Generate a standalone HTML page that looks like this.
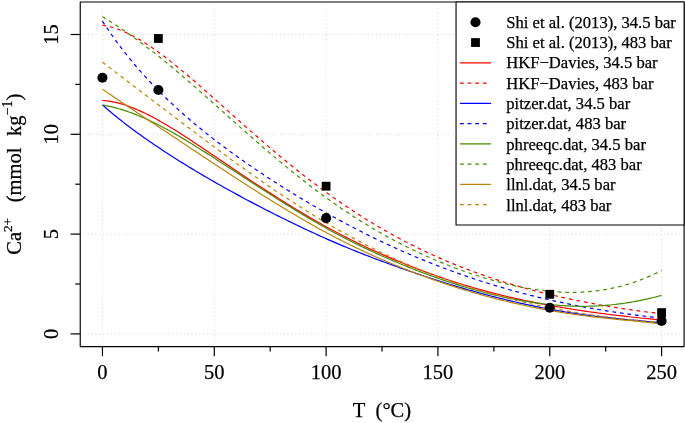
<!DOCTYPE html>
<html><head><meta charset="utf-8"><style>
html,body{margin:0;padding:0;background:#fff;}
svg{display:block;font-family:"Liberation Serif",serif;will-change:transform;}
text{stroke:#000;stroke-width:0.25px;}
</style></head><body>
<svg width="685" height="423" viewBox="0 0 685 423">
<rect width="685" height="423" fill="#fff"/>
<line x1="102.45" y1="346.55" x2="102.45" y2="2.00" stroke="#d3d3d3" stroke-width="1" stroke-dasharray="0.96 2.88" stroke-dashoffset="0.5"/>
<line x1="214.28" y1="346.55" x2="214.28" y2="2.00" stroke="#d3d3d3" stroke-width="1" stroke-dasharray="0.96 2.88" stroke-dashoffset="0.5"/>
<line x1="326.11" y1="346.55" x2="326.11" y2="2.00" stroke="#d3d3d3" stroke-width="1" stroke-dasharray="0.96 2.88" stroke-dashoffset="0.5"/>
<line x1="437.94" y1="346.55" x2="437.94" y2="2.00" stroke="#d3d3d3" stroke-width="1" stroke-dasharray="0.96 2.88" stroke-dashoffset="0.5"/>
<line x1="549.77" y1="346.55" x2="549.77" y2="2.00" stroke="#d3d3d3" stroke-width="1" stroke-dasharray="0.96 2.88" stroke-dashoffset="0.5"/>
<line x1="661.60" y1="346.55" x2="661.60" y2="2.00" stroke="#d3d3d3" stroke-width="1" stroke-dasharray="0.96 2.88" stroke-dashoffset="0.5"/>
<line x1="80.25" y1="333.90" x2="684.10" y2="333.90" stroke="#d3d3d3" stroke-width="1" stroke-dasharray="0.96 2.88"/>
<line x1="80.25" y1="234.10" x2="684.10" y2="234.10" stroke="#d3d3d3" stroke-width="1" stroke-dasharray="0.96 2.88"/>
<line x1="80.25" y1="134.30" x2="684.10" y2="134.30" stroke="#d3d3d3" stroke-width="1" stroke-dasharray="0.96 2.88"/>
<line x1="80.25" y1="34.50" x2="684.10" y2="34.50" stroke="#d3d3d3" stroke-width="1" stroke-dasharray="0.96 2.88"/>
<path d="M102.45,100.42 L104.79,100.60 L107.13,100.86 L109.47,101.18 L111.81,101.58 L114.15,102.05 L116.49,102.57 L118.83,103.17 L121.17,103.82 L123.51,104.52 L125.85,105.28 L128.18,106.10 L130.52,106.96 L132.86,107.86 L135.20,108.82 L137.54,109.81 L139.88,110.85 L142.22,111.92 L144.56,113.04 L146.90,114.18 L149.24,115.36 L151.58,116.57 L153.92,117.82 L156.26,119.09 L158.60,120.39 L160.94,121.71 L163.28,123.05 L165.62,124.42 L167.96,125.81 L170.30,127.22 L172.64,128.65 L174.98,130.10 L177.32,131.56 L179.65,133.04 L181.99,134.53 L184.33,136.04 L186.67,137.55 L189.01,139.08 L191.35,140.61 L193.69,142.15 L196.03,143.70 L198.37,145.26 L200.71,146.82 L203.05,148.39 L205.39,149.96 L207.73,151.54 L210.07,153.11 L212.41,154.69 L214.75,156.27 L217.09,157.86 L219.43,159.44 L221.77,161.02 L224.11,162.60 L226.45,164.18 L228.79,165.76 L231.12,167.34 L233.46,168.92 L235.80,170.49 L238.14,172.07 L240.48,173.63 L242.82,175.20 L245.16,176.76 L247.50,178.32 L249.84,179.88 L252.18,181.43 L254.52,182.97 L256.86,184.51 L259.20,186.04 L261.54,187.57 L263.88,189.10 L266.22,190.61 L268.56,192.12 L270.90,193.62 L273.24,195.12 L275.58,196.61 L277.92,198.09 L280.26,199.56 L282.59,201.03 L284.93,202.48 L287.27,203.93 L289.61,205.37 L291.95,206.81 L294.29,208.24 L296.63,209.65 L298.97,211.07 L301.31,212.47 L303.65,213.87 L305.99,215.25 L308.33,216.63 L310.67,217.99 L313.01,219.35 L315.35,220.69 L317.69,222.03 L320.03,223.35 L322.37,224.67 L324.71,225.97 L327.05,227.26 L329.39,228.53 L331.72,229.80 L334.06,231.05 L336.40,232.29 L338.74,233.52 L341.08,234.74 L343.42,235.95 L345.76,237.14 L348.10,238.33 L350.44,239.50 L352.78,240.67 L355.12,241.82 L357.46,242.96 L359.80,244.09 L362.14,245.22 L364.48,246.33 L366.82,247.42 L369.16,248.51 L371.50,249.59 L373.84,250.66 L376.18,251.72 L378.52,252.77 L380.86,253.81 L383.19,254.84 L385.53,255.86 L387.87,256.87 L390.21,257.87 L392.55,258.86 L394.89,259.85 L397.23,260.83 L399.57,261.79 L401.91,262.75 L404.25,263.70 L406.59,264.64 L408.93,265.58 L411.27,266.50 L413.61,267.42 L415.95,268.32 L418.29,269.22 L420.63,270.11 L422.97,270.99 L425.31,271.86 L427.65,272.72 L429.99,273.57 L432.33,274.42 L434.66,275.25 L437.00,276.07 L439.34,276.88 L441.68,277.69 L444.02,278.48 L446.36,279.27 L448.70,280.04 L451.04,280.81 L453.38,281.56 L455.72,282.31 L458.06,283.05 L460.40,283.78 L462.74,284.50 L465.08,285.21 L467.42,285.91 L469.76,286.60 L472.10,287.28 L474.44,287.96 L476.78,288.62 L479.12,289.28 L481.46,289.93 L483.79,290.57 L486.13,291.20 L488.47,291.83 L490.81,292.44 L493.15,293.05 L495.49,293.65 L497.83,294.24 L500.17,294.82 L502.51,295.40 L504.85,295.96 L507.19,296.52 L509.53,297.07 L511.87,297.61 L514.21,298.15 L516.55,298.68 L518.89,299.20 L521.23,299.71 L523.57,300.22 L525.91,300.72 L528.25,301.21 L530.59,301.69 L532.93,302.17 L535.26,302.64 L537.60,303.10 L539.94,303.55 L542.28,304.00 L544.62,304.45 L546.96,304.88 L549.30,305.31 L551.64,305.74 L553.98,306.15 L556.32,306.57 L558.66,306.97 L561.00,307.37 L563.34,307.76 L565.68,308.15 L568.02,308.53 L570.36,308.91 L572.70,309.28 L575.04,309.65 L577.38,310.01 L579.72,310.36 L582.06,310.71 L584.40,311.06 L586.73,311.40 L589.07,311.73 L591.41,312.06 L593.75,312.39 L596.09,312.71 L598.43,313.03 L600.77,313.34 L603.11,313.64 L605.45,313.95 L607.79,314.24 L610.13,314.54 L612.47,314.83 L614.81,315.11 L617.15,315.39 L619.49,315.67 L621.83,315.94 L624.17,316.21 L626.51,316.47 L628.85,316.74 L631.19,316.99 L633.53,317.25 L635.87,317.50 L638.20,317.74 L640.54,317.99 L642.88,318.23 L645.22,318.47 L647.56,318.70 L649.90,318.93 L652.24,319.16 L654.58,319.39 L656.92,319.61 L659.26,319.83 L661.60,320.04" fill="none" stroke="#ff0000" stroke-width="1.2"/>
<path d="M102.45,25.27 L104.79,25.65 L107.13,26.10 L109.47,26.64 L111.81,27.26 L114.15,27.95 L116.49,28.72 L118.83,29.56 L121.17,30.46 L123.51,31.43 L125.85,32.46 L128.18,33.55 L130.52,34.70 L132.86,35.91 L135.20,37.17 L137.54,38.48 L139.88,39.84 L142.22,41.25 L144.56,42.70 L146.90,44.19 L149.24,45.73 L151.58,47.30 L153.92,48.92 L156.26,50.57 L158.60,52.25 L160.94,53.96 L163.28,55.71 L165.62,57.48 L167.96,59.29 L170.30,61.11 L172.64,62.97 L174.98,64.84 L177.32,66.74 L179.65,68.66 L181.99,70.59 L184.33,72.55 L186.67,74.52 L189.01,76.51 L191.35,78.51 L193.69,80.52 L196.03,82.55 L198.37,84.58 L200.71,86.63 L203.05,88.68 L205.39,90.75 L207.73,92.82 L210.07,94.89 L212.41,96.97 L214.75,99.06 L217.09,101.15 L219.43,103.24 L221.77,105.33 L224.11,107.42 L226.45,109.52 L228.79,111.61 L231.12,113.70 L233.46,115.80 L235.80,117.88 L238.14,119.97 L240.48,122.05 L242.82,124.13 L245.16,126.21 L247.50,128.27 L249.84,130.34 L252.18,132.39 L254.52,134.45 L256.86,136.49 L259.20,138.52 L261.54,140.55 L263.88,142.57 L266.22,144.58 L268.56,146.59 L270.90,148.58 L273.24,150.56 L275.58,152.54 L277.92,154.50 L280.26,156.45 L282.59,158.39 L284.93,160.32 L287.27,162.24 L289.61,164.15 L291.95,166.04 L294.29,167.93 L296.63,169.80 L298.97,171.66 L301.31,173.50 L303.65,175.34 L305.99,177.16 L308.33,178.97 L310.67,180.76 L313.01,182.54 L315.35,184.31 L317.69,186.06 L320.03,187.80 L322.37,189.53 L324.71,191.24 L327.05,192.94 L329.39,194.62 L331.72,196.30 L334.06,197.95 L336.40,199.59 L338.74,201.22 L341.08,202.84 L343.42,204.43 L345.76,206.02 L348.10,207.59 L350.44,209.15 L352.78,210.69 L355.12,212.22 L357.46,213.73 L359.80,215.23 L362.14,216.71 L364.48,218.18 L366.82,219.64 L369.16,221.08 L371.50,222.51 L373.84,223.92 L376.18,225.32 L378.52,226.70 L380.86,228.07 L383.19,229.43 L385.53,230.77 L387.87,232.10 L390.21,233.41 L392.55,234.71 L394.89,236.00 L397.23,237.27 L399.57,238.53 L401.91,239.78 L404.25,241.01 L406.59,242.23 L408.93,243.43 L411.27,244.62 L413.61,245.80 L415.95,246.96 L418.29,248.12 L420.63,249.25 L422.97,250.38 L425.31,251.49 L427.65,252.59 L429.99,253.68 L432.33,254.75 L434.66,255.81 L437.00,256.86 L439.34,257.90 L441.68,258.92 L444.02,259.94 L446.36,260.94 L448.70,261.92 L451.04,262.90 L453.38,263.86 L455.72,264.82 L458.06,265.76 L460.40,266.69 L462.74,267.60 L465.08,268.51 L467.42,269.41 L469.76,270.29 L472.10,271.16 L474.44,272.02 L476.78,272.87 L479.12,273.71 L481.46,274.54 L483.79,275.36 L486.13,276.17 L488.47,276.97 L490.81,277.76 L493.15,278.53 L495.49,279.30 L497.83,280.06 L500.17,280.80 L502.51,281.54 L504.85,282.27 L507.19,282.99 L509.53,283.70 L511.87,284.40 L514.21,285.09 L516.55,285.77 L518.89,286.44 L521.23,287.10 L523.57,287.76 L525.91,288.40 L528.25,289.04 L530.59,289.66 L532.93,290.28 L535.26,290.89 L537.60,291.50 L539.94,292.09 L542.28,292.68 L544.62,293.26 L546.96,293.83 L549.30,294.39 L551.64,294.94 L553.98,295.49 L556.32,296.03 L558.66,296.56 L561.00,297.09 L563.34,297.60 L565.68,298.11 L568.02,298.62 L570.36,299.11 L572.70,299.60 L575.04,300.09 L577.38,300.56 L579.72,301.03 L582.06,301.49 L584.40,301.95 L586.73,302.40 L589.07,302.84 L591.41,303.28 L593.75,303.71 L596.09,304.14 L598.43,304.56 L600.77,304.97 L603.11,305.38 L605.45,305.78 L607.79,306.17 L610.13,306.56 L612.47,306.95 L614.81,307.33 L617.15,307.70 L619.49,308.07 L621.83,308.43 L624.17,308.79 L626.51,309.14 L628.85,309.48 L631.19,309.83 L633.53,310.16 L635.87,310.49 L638.20,310.82 L640.54,311.14 L642.88,311.45 L645.22,311.76 L647.56,312.07 L649.90,312.37 L652.24,312.66 L654.58,312.95 L656.92,313.23 L659.26,313.51 L661.60,313.79" fill="none" stroke="#ff0000" stroke-width="1.2" stroke-dasharray="3.81 3.81"/>
<path d="M102.45,105.03 L104.79,107.07 L107.13,109.07 L109.47,111.05 L111.81,113.00 L114.15,114.92 L116.49,116.82 L118.83,118.70 L121.17,120.55 L123.51,122.38 L125.85,124.18 L128.18,125.97 L130.52,127.73 L132.86,129.47 L135.20,131.20 L137.54,132.91 L139.88,134.60 L142.22,136.27 L144.56,137.92 L146.90,139.56 L149.24,141.19 L151.58,142.80 L153.92,144.40 L156.26,145.98 L158.60,147.55 L160.94,149.11 L163.28,150.65 L165.62,152.19 L167.96,153.71 L170.30,155.22 L172.64,156.72 L174.98,158.21 L177.32,159.69 L179.65,161.16 L181.99,162.63 L184.33,164.08 L186.67,165.52 L189.01,166.95 L191.35,168.37 L193.69,169.79 L196.03,171.19 L198.37,172.59 L200.71,173.98 L203.05,175.36 L205.39,176.73 L207.73,178.09 L210.07,179.45 L212.41,180.79 L214.75,182.13 L217.09,183.46 L219.43,184.79 L221.77,186.10 L224.11,187.41 L226.45,188.72 L228.79,190.01 L231.12,191.30 L233.46,192.59 L235.80,193.86 L238.14,195.13 L240.48,196.40 L242.82,197.66 L245.16,198.91 L247.50,200.16 L249.84,201.40 L252.18,202.64 L254.52,203.87 L256.86,205.10 L259.20,206.31 L261.54,207.53 L263.88,208.74 L266.22,209.94 L268.56,211.13 L270.90,212.33 L273.24,213.51 L275.58,214.69 L277.92,215.86 L280.26,217.02 L282.59,218.18 L284.93,219.33 L287.27,220.48 L289.61,221.62 L291.95,222.76 L294.29,223.89 L296.63,225.02 L298.97,226.14 L301.31,227.26 L303.65,228.37 L305.99,229.47 L308.33,230.57 L310.67,231.66 L313.01,232.74 L315.35,233.82 L317.69,234.89 L320.03,235.95 L322.37,237.00 L324.71,238.05 L327.05,239.08 L329.39,240.11 L331.72,241.13 L334.06,242.14 L336.40,243.14 L338.74,244.14 L341.08,245.12 L343.42,246.10 L345.76,247.07 L348.10,248.04 L350.44,249.00 L352.78,249.95 L355.12,250.89 L357.46,251.83 L359.80,252.76 L362.14,253.68 L364.48,254.60 L366.82,255.51 L369.16,256.41 L371.50,257.30 L373.84,258.20 L376.18,259.08 L378.52,259.96 L380.86,260.83 L383.19,261.70 L385.53,262.56 L387.87,263.42 L390.21,264.27 L392.55,265.12 L394.89,265.96 L397.23,266.80 L399.57,267.63 L401.91,268.46 L404.25,269.29 L406.59,270.11 L408.93,270.92 L411.27,271.73 L413.61,272.54 L415.95,273.34 L418.29,274.14 L420.63,274.93 L422.97,275.71 L425.31,276.49 L427.65,277.27 L429.99,278.04 L432.33,278.80 L434.66,279.56 L437.00,280.31 L439.34,281.05 L441.68,281.79 L444.02,282.53 L446.36,283.26 L448.70,283.98 L451.04,284.70 L453.38,285.41 L455.72,286.11 L458.06,286.81 L460.40,287.50 L462.74,288.19 L465.08,288.87 L467.42,289.54 L469.76,290.21 L472.10,290.87 L474.44,291.53 L476.78,292.18 L479.12,292.83 L481.46,293.46 L483.79,294.10 L486.13,294.72 L488.47,295.34 L490.81,295.96 L493.15,296.57 L495.49,297.17 L497.83,297.76 L500.17,298.35 L502.51,298.93 L504.85,299.51 L507.19,300.08 L509.53,300.64 L511.87,301.20 L514.21,301.74 L516.55,302.29 L518.89,302.82 L521.23,303.35 L523.57,303.87 L525.91,304.38 L528.25,304.89 L530.59,305.39 L532.93,305.88 L535.26,306.37 L537.60,306.84 L539.94,307.31 L542.28,307.78 L544.62,308.23 L546.96,308.68 L549.30,309.12 L551.64,309.55 L553.98,309.98 L556.32,310.39 L558.66,310.80 L561.00,311.21 L563.34,311.60 L565.68,311.99 L568.02,312.37 L570.36,312.74 L572.70,313.10 L575.04,313.46 L577.38,313.81 L579.72,314.15 L582.06,314.48 L584.40,314.81 L586.73,315.13 L589.07,315.44 L591.41,315.75 L593.75,316.05 L596.09,316.34 L598.43,316.62 L600.77,316.90 L603.11,317.17 L605.45,317.43 L607.79,317.69 L610.13,317.94 L612.47,318.19 L614.81,318.43 L617.15,318.67 L619.49,318.90 L621.83,319.13 L624.17,319.36 L626.51,319.58 L628.85,319.80 L631.19,320.01 L633.53,320.22 L635.87,320.44 L638.20,320.65 L640.54,320.86 L642.88,321.08 L645.22,321.29 L647.56,321.51 L649.90,321.73 L652.24,321.95 L654.58,322.18 L656.92,322.41 L659.26,322.65 L661.60,322.89" fill="none" stroke="#0000ff" stroke-width="1.2"/>
<path d="M102.45,21.20 L104.79,24.76 L107.13,28.25 L109.47,31.67 L111.81,35.02 L114.15,38.31 L116.49,41.53 L118.83,44.69 L121.17,47.79 L123.51,50.83 L125.85,53.82 L128.18,56.76 L130.52,59.64 L132.86,62.47 L135.20,65.26 L137.54,68.00 L139.88,70.69 L142.22,73.34 L144.56,75.94 L146.90,78.51 L149.24,81.03 L151.58,83.52 L153.92,85.97 L156.26,88.38 L158.60,90.76 L160.94,93.11 L163.28,95.42 L165.62,97.70 L167.96,99.95 L170.30,102.17 L172.64,104.37 L174.98,106.53 L177.32,108.67 L179.65,110.79 L181.99,112.88 L184.33,114.94 L186.67,116.98 L189.01,119.00 L191.35,121.00 L193.69,122.98 L196.03,124.93 L198.37,126.87 L200.71,128.78 L203.05,130.68 L205.39,132.56 L207.73,134.43 L210.07,136.27 L212.41,138.10 L214.75,139.92 L217.09,141.71 L219.43,143.50 L221.77,145.26 L224.11,147.02 L226.45,148.76 L228.79,150.48 L231.12,152.19 L233.46,153.89 L235.80,155.58 L238.14,157.25 L240.48,158.92 L242.82,160.57 L245.16,162.21 L247.50,163.83 L249.84,165.45 L252.18,167.06 L254.52,168.65 L256.86,170.23 L259.20,171.81 L261.54,173.37 L263.88,174.92 L266.22,176.47 L268.56,178.00 L270.90,179.53 L273.24,181.04 L275.58,182.55 L277.92,184.04 L280.26,185.53 L282.59,187.01 L284.93,188.47 L287.27,189.93 L289.61,191.38 L291.95,192.82 L294.29,194.26 L296.63,195.68 L298.97,197.10 L301.31,198.50 L303.65,199.90 L305.99,201.29 L308.33,202.67 L310.67,204.04 L313.01,205.41 L315.35,206.76 L317.69,208.11 L320.03,209.45 L322.37,210.77 L324.71,212.10 L327.05,213.41 L329.39,214.71 L331.72,216.01 L334.06,217.30 L336.40,218.57 L338.74,219.85 L341.08,221.11 L343.42,222.36 L345.76,223.61 L348.10,224.84 L350.44,226.07 L352.78,227.29 L355.12,228.50 L357.46,229.70 L359.80,230.90 L362.14,232.08 L364.48,233.26 L366.82,234.43 L369.16,235.59 L371.50,236.74 L373.84,237.88 L376.18,239.02 L378.52,240.14 L380.86,241.26 L383.19,242.37 L385.53,243.47 L387.87,244.56 L390.21,245.64 L392.55,246.72 L394.89,247.78 L397.23,248.84 L399.57,249.89 L401.91,250.93 L404.25,251.96 L406.59,252.98 L408.93,254.00 L411.27,255.00 L413.61,256.00 L415.95,256.99 L418.29,257.97 L420.63,258.94 L422.97,259.90 L425.31,260.86 L427.65,261.80 L429.99,262.74 L432.33,263.67 L434.66,264.59 L437.00,265.50 L439.34,266.40 L441.68,267.30 L444.02,268.19 L446.36,269.06 L448.70,269.93 L451.04,270.80 L453.38,271.65 L455.72,272.49 L458.06,273.33 L460.40,274.16 L462.74,274.98 L465.08,275.79 L467.42,276.60 L469.76,277.39 L472.10,278.18 L474.44,278.96 L476.78,279.73 L479.12,280.50 L481.46,281.25 L483.79,282.00 L486.13,282.74 L488.47,283.47 L490.81,284.19 L493.15,284.91 L495.49,285.62 L497.83,286.32 L500.17,287.01 L502.51,287.70 L504.85,288.37 L507.19,289.04 L509.53,289.71 L511.87,290.36 L514.21,291.01 L516.55,291.65 L518.89,292.28 L521.23,292.90 L523.57,293.52 L525.91,294.13 L528.25,294.73 L530.59,295.32 L532.93,295.91 L535.26,296.49 L537.60,297.06 L539.94,297.63 L542.28,298.19 L544.62,298.74 L546.96,299.28 L549.30,299.82 L551.64,300.35 L553.98,300.87 L556.32,301.39 L558.66,301.89 L561.00,302.40 L563.34,302.89 L565.68,303.38 L568.02,303.86 L570.36,304.33 L572.70,304.80 L575.04,305.26 L577.38,305.72 L579.72,306.17 L582.06,306.61 L584.40,307.04 L586.73,307.47 L589.07,307.89 L591.41,308.31 L593.75,308.71 L596.09,309.12 L598.43,309.51 L600.77,309.90 L603.11,310.29 L605.45,310.67 L607.79,311.04 L610.13,311.40 L612.47,311.76 L614.81,312.12 L617.15,312.47 L619.49,312.81 L621.83,313.15 L624.17,313.48 L626.51,313.81 L628.85,314.13 L631.19,314.44 L633.53,314.75 L635.87,315.06 L638.20,315.36 L640.54,315.66 L642.88,315.95 L645.22,316.24 L647.56,316.52 L649.90,316.80 L652.24,317.07 L654.58,317.34 L656.92,317.61 L659.26,317.87 L661.60,318.13" fill="none" stroke="#0000ff" stroke-width="1.2" stroke-dasharray="3.81 3.81"/>
<path d="M102.45,105.06 L104.79,105.45 L107.13,105.88 L109.47,106.36 L111.81,106.89 L114.15,107.45 L116.49,108.06 L118.83,108.72 L121.17,109.41 L123.51,110.14 L125.85,110.90 L128.18,111.71 L130.52,112.55 L132.86,113.42 L135.20,114.32 L137.54,115.26 L139.88,116.23 L142.22,117.23 L144.56,118.26 L146.90,119.32 L149.24,120.40 L151.58,121.52 L153.92,122.65 L156.26,123.81 L158.60,125.00 L160.94,126.21 L163.28,127.44 L165.62,128.69 L167.96,129.96 L170.30,131.25 L172.64,132.57 L174.98,133.89 L177.32,135.24 L179.65,136.60 L181.99,137.98 L184.33,139.37 L186.67,140.77 L189.01,142.19 L191.35,143.61 L193.69,145.05 L196.03,146.50 L198.37,147.96 L200.71,149.42 L203.05,150.90 L205.39,152.38 L207.73,153.87 L210.07,155.36 L212.41,156.86 L214.75,158.37 L217.09,159.88 L219.43,161.39 L221.77,162.90 L224.11,164.42 L226.45,165.95 L228.79,167.47 L231.12,169.00 L233.46,170.52 L235.80,172.05 L238.14,173.58 L240.48,175.11 L242.82,176.64 L245.16,178.17 L247.50,179.70 L249.84,181.22 L252.18,182.75 L254.52,184.27 L256.86,185.79 L259.20,187.30 L261.54,188.82 L263.88,190.33 L266.22,191.83 L268.56,193.33 L270.90,194.83 L273.24,196.32 L275.58,197.80 L277.92,199.28 L280.26,200.75 L282.59,202.22 L284.93,203.68 L287.27,205.13 L289.61,206.57 L291.95,208.02 L294.29,209.45 L296.63,210.88 L298.97,212.30 L301.31,213.71 L303.65,215.12 L305.99,216.51 L308.33,217.90 L310.67,219.28 L313.01,220.64 L315.35,222.00 L317.69,223.35 L320.03,224.69 L322.37,226.01 L324.71,227.33 L327.05,228.63 L329.39,229.92 L331.72,231.20 L334.06,232.47 L336.40,233.72 L338.74,234.97 L341.08,236.20 L343.42,237.42 L345.76,238.63 L348.10,239.83 L350.44,241.01 L352.78,242.19 L355.12,243.36 L357.46,244.51 L359.80,245.66 L362.14,246.79 L364.48,247.91 L366.82,249.02 L369.16,250.12 L371.50,251.21 L373.84,252.29 L376.18,253.36 L378.52,254.42 L380.86,255.47 L383.19,256.51 L385.53,257.54 L387.87,258.56 L390.21,259.57 L392.55,260.58 L394.89,261.57 L397.23,262.56 L399.57,263.53 L401.91,264.50 L404.25,265.46 L406.59,266.41 L408.93,267.35 L411.27,268.28 L413.61,269.21 L415.95,270.12 L418.29,271.03 L420.63,271.92 L422.97,272.81 L425.31,273.68 L427.65,274.55 L429.99,275.41 L432.33,276.25 L434.66,277.09 L437.00,277.92 L439.34,278.73 L441.68,279.54 L444.02,280.34 L446.36,281.12 L448.70,281.90 L451.04,282.66 L453.38,283.42 L455.72,284.16 L458.06,284.90 L460.40,285.62 L462.74,286.34 L465.08,287.04 L467.42,287.73 L469.76,288.41 L472.10,289.08 L474.44,289.74 L476.78,290.39 L479.12,291.03 L481.46,291.66 L483.79,292.27 L486.13,292.88 L488.47,293.47 L490.81,294.06 L493.15,294.63 L495.49,295.19 L497.83,295.74 L500.17,296.27 L502.51,296.80 L504.85,297.31 L507.19,297.81 L509.53,298.30 L511.87,298.78 L514.21,299.24 L516.55,299.69 L518.89,300.12 L521.23,300.55 L523.57,300.96 L525.91,301.35 L528.25,301.74 L530.59,302.10 L532.93,302.46 L535.26,302.80 L537.60,303.12 L539.94,303.43 L542.28,303.73 L544.62,304.01 L546.96,304.28 L549.30,304.53 L551.64,304.76 L553.98,304.98 L556.32,305.18 L558.66,305.37 L561.00,305.54 L563.34,305.69 L565.68,305.83 L568.02,305.95 L570.36,306.05 L572.70,306.13 L575.04,306.20 L577.38,306.25 L579.72,306.28 L582.06,306.30 L584.40,306.29 L586.73,306.27 L589.07,306.22 L591.41,306.16 L593.75,306.08 L596.09,305.98 L598.43,305.87 L600.77,305.73 L603.11,305.57 L605.45,305.39 L607.79,305.20 L610.13,304.98 L612.47,304.74 L614.81,304.49 L617.15,304.21 L619.49,303.92 L621.83,303.60 L624.17,303.27 L626.51,302.91 L628.85,302.54 L631.19,302.15 L633.53,301.74 L635.87,301.30 L638.20,300.86 L640.54,300.39 L642.88,299.90 L645.22,299.40 L647.56,298.88 L649.90,298.34 L652.24,297.79 L654.58,297.22 L656.92,296.63 L659.26,296.03 L661.60,295.41" fill="none" stroke="#458b00" stroke-width="1.2"/>
<path d="M102.45,16.67 L104.79,18.10 L107.13,19.56 L109.47,21.03 L111.81,22.52 L114.15,24.03 L116.49,25.56 L118.83,27.11 L121.17,28.67 L123.51,30.26 L125.85,31.87 L128.18,33.49 L130.52,35.14 L132.86,36.80 L135.20,38.48 L137.54,40.19 L139.88,41.91 L142.22,43.65 L144.56,45.40 L146.90,47.18 L149.24,48.97 L151.58,50.78 L153.92,52.61 L156.26,54.45 L158.60,56.31 L160.94,58.19 L163.28,60.08 L165.62,61.98 L167.96,63.90 L170.30,65.83 L172.64,67.78 L174.98,69.74 L177.32,71.71 L179.65,73.69 L181.99,75.69 L184.33,77.69 L186.67,79.70 L189.01,81.73 L191.35,83.76 L193.69,85.80 L196.03,87.85 L198.37,89.90 L200.71,91.96 L203.05,94.03 L205.39,96.10 L207.73,98.18 L210.07,100.26 L212.41,102.34 L214.75,104.43 L217.09,106.52 L219.43,108.61 L221.77,110.70 L224.11,112.79 L226.45,114.89 L228.79,116.98 L231.12,119.07 L233.46,121.16 L235.80,123.24 L238.14,125.33 L240.48,127.41 L242.82,129.49 L245.16,131.56 L247.50,133.63 L249.84,135.69 L252.18,137.75 L254.52,139.80 L256.86,141.85 L259.20,143.88 L261.54,145.91 L263.88,147.94 L266.22,149.95 L268.56,151.95 L270.90,153.95 L273.24,155.94 L275.58,157.91 L277.92,159.88 L280.26,161.84 L282.59,163.78 L284.93,165.72 L287.27,167.64 L289.61,169.55 L291.95,171.45 L294.29,173.33 L296.63,175.21 L298.97,177.07 L301.31,178.92 L303.65,180.75 L305.99,182.57 L308.33,184.38 L310.67,186.17 L313.01,187.95 L315.35,189.72 L317.69,191.47 L320.03,193.20 L322.37,194.92 L324.71,196.63 L327.05,198.32 L329.39,200.00 L331.72,201.66 L334.06,203.31 L336.40,204.94 L338.74,206.56 L341.08,208.16 L343.42,209.74 L345.76,211.31 L348.10,212.87 L350.44,214.41 L352.78,215.93 L355.12,217.44 L357.46,218.93 L359.80,220.41 L362.14,221.87 L364.48,223.31 L366.82,224.74 L369.16,226.16 L371.50,227.56 L373.84,228.94 L376.18,230.31 L378.52,231.67 L380.86,233.01 L383.19,234.33 L385.53,235.64 L387.87,236.93 L390.21,238.21 L392.55,239.47 L394.89,240.72 L397.23,241.96 L399.57,243.17 L401.91,244.38 L404.25,245.57 L406.59,246.74 L408.93,247.91 L411.27,249.05 L413.61,250.19 L415.95,251.30 L418.29,252.41 L420.63,253.50 L422.97,254.57 L425.31,255.64 L427.65,256.68 L429.99,257.72 L432.33,258.74 L434.66,259.74 L437.00,260.74 L439.34,261.72 L441.68,262.68 L444.02,263.63 L446.36,264.57 L448.70,265.50 L451.04,266.41 L453.38,267.30 L455.72,268.19 L458.06,269.06 L460.40,269.91 L462.74,270.76 L465.08,271.58 L467.42,272.40 L469.76,273.20 L472.10,273.99 L474.44,274.76 L476.78,275.52 L479.12,276.26 L481.46,276.99 L483.79,277.71 L486.13,278.41 L488.47,279.10 L490.81,279.77 L493.15,280.43 L495.49,281.07 L497.83,281.70 L500.17,282.31 L502.51,282.91 L504.85,283.49 L507.19,284.05 L509.53,284.60 L511.87,285.13 L514.21,285.65 L516.55,286.15 L518.89,286.63 L521.23,287.10 L523.57,287.54 L525.91,287.97 L528.25,288.38 L530.59,288.78 L532.93,289.15 L535.26,289.51 L537.60,289.84 L539.94,290.16 L542.28,290.45 L544.62,290.73 L546.96,290.99 L549.30,291.22 L551.64,291.43 L553.98,291.62 L556.32,291.79 L558.66,291.94 L561.00,292.06 L563.34,292.16 L565.68,292.24 L568.02,292.29 L570.36,292.32 L572.70,292.33 L575.04,292.30 L577.38,292.26 L579.72,292.18 L582.06,292.08 L584.40,291.96 L586.73,291.80 L589.07,291.62 L591.41,291.41 L593.75,291.18 L596.09,290.91 L598.43,290.61 L600.77,290.29 L603.11,289.93 L605.45,289.55 L607.79,289.13 L610.13,288.69 L612.47,288.21 L614.81,287.70 L617.15,287.16 L619.49,286.58 L621.83,285.98 L624.17,285.34 L626.51,284.67 L628.85,283.96 L631.19,283.22 L633.53,282.45 L635.87,281.65 L638.20,280.81 L640.54,279.93 L642.88,279.03 L645.22,278.09 L647.56,277.11 L649.90,276.10 L652.24,275.06 L654.58,273.98 L656.92,272.87 L659.26,271.72 L661.60,270.54" fill="none" stroke="#458b00" stroke-width="1.2" stroke-dasharray="3.81 3.81"/>
<path d="M102.45,89.12 L104.79,90.75 L107.13,92.37 L109.47,93.98 L111.81,95.59 L114.15,97.18 L116.49,98.78 L118.83,100.36 L121.17,101.95 L123.51,103.52 L125.85,105.10 L128.18,106.67 L130.52,108.23 L132.86,109.79 L135.20,111.36 L137.54,112.91 L139.88,114.47 L142.22,116.03 L144.56,117.58 L146.90,119.14 L149.24,120.69 L151.58,122.24 L153.92,123.80 L156.26,125.35 L158.60,126.90 L160.94,128.46 L163.28,130.01 L165.62,131.56 L167.96,133.12 L170.30,134.67 L172.64,136.23 L174.98,137.79 L177.32,139.34 L179.65,140.90 L181.99,142.46 L184.33,144.02 L186.67,145.58 L189.01,147.13 L191.35,148.69 L193.69,150.25 L196.03,151.80 L198.37,153.35 L200.71,154.91 L203.05,156.46 L205.39,158.01 L207.73,159.55 L210.07,161.10 L212.41,162.64 L214.75,164.19 L217.09,165.72 L219.43,167.26 L221.77,168.80 L224.11,170.33 L226.45,171.86 L228.79,173.39 L231.12,174.91 L233.46,176.43 L235.80,177.95 L238.14,179.47 L240.48,180.98 L242.82,182.49 L245.16,184.00 L247.50,185.50 L249.84,187.00 L252.18,188.49 L254.52,189.98 L256.86,191.47 L259.20,192.95 L261.54,194.43 L263.88,195.90 L266.22,197.36 L268.56,198.82 L270.90,200.28 L273.24,201.73 L275.58,203.17 L277.92,204.60 L280.26,206.03 L282.59,207.45 L284.93,208.86 L287.27,210.27 L289.61,211.67 L291.95,213.07 L294.29,214.46 L296.63,215.84 L298.97,217.21 L301.31,218.58 L303.65,219.94 L305.99,221.29 L308.33,222.64 L310.67,223.97 L313.01,225.29 L315.35,226.61 L317.69,227.91 L320.03,229.20 L322.37,230.49 L324.71,231.76 L327.05,233.02 L329.39,234.27 L331.72,235.51 L334.06,236.73 L336.40,237.95 L338.74,239.15 L341.08,240.34 L343.42,241.52 L345.76,242.70 L348.10,243.86 L350.44,245.01 L352.78,246.15 L355.12,247.28 L357.46,248.40 L359.80,249.50 L362.14,250.60 L364.48,251.69 L366.82,252.77 L369.16,253.83 L371.50,254.89 L373.84,255.94 L376.18,256.98 L378.52,258.01 L380.86,259.02 L383.19,260.03 L385.53,261.04 L387.87,262.03 L390.21,263.01 L392.55,263.99 L394.89,264.96 L397.23,265.92 L399.57,266.87 L401.91,267.81 L404.25,268.75 L406.59,269.67 L408.93,270.59 L411.27,271.50 L413.61,272.40 L415.95,273.30 L418.29,274.19 L420.63,275.06 L422.97,275.93 L425.31,276.79 L427.65,277.65 L429.99,278.49 L432.33,279.32 L434.66,280.15 L437.00,280.97 L439.34,281.77 L441.68,282.57 L444.02,283.36 L446.36,284.15 L448.70,284.92 L451.04,285.68 L453.38,286.44 L455.72,287.19 L458.06,287.92 L460.40,288.65 L462.74,289.38 L465.08,290.09 L467.42,290.79 L469.76,291.49 L472.10,292.18 L474.44,292.86 L476.78,293.53 L479.12,294.19 L481.46,294.85 L483.79,295.50 L486.13,296.14 L488.47,296.77 L490.81,297.39 L493.15,298.01 L495.49,298.61 L497.83,299.21 L500.17,299.80 L502.51,300.39 L504.85,300.96 L507.19,301.53 L509.53,302.09 L511.87,302.64 L514.21,303.18 L516.55,303.71 L518.89,304.24 L521.23,304.76 L523.57,305.27 L525.91,305.77 L528.25,306.26 L530.59,306.75 L532.93,307.22 L535.26,307.69 L537.60,308.15 L539.94,308.60 L542.28,309.05 L544.62,309.48 L546.96,309.91 L549.30,310.33 L551.64,310.74 L553.98,311.15 L556.32,311.54 L558.66,311.93 L561.00,312.31 L563.34,312.69 L565.68,313.05 L568.02,313.41 L570.36,313.76 L572.70,314.10 L575.04,314.43 L577.38,314.76 L579.72,315.08 L582.06,315.39 L584.40,315.70 L586.73,316.00 L589.07,316.29 L591.41,316.58 L593.75,316.86 L596.09,317.13 L598.43,317.40 L600.77,317.66 L603.11,317.91 L605.45,318.16 L607.79,318.41 L610.13,318.65 L612.47,318.89 L614.81,319.12 L617.15,319.35 L619.49,319.58 L621.83,319.81 L624.17,320.03 L626.51,320.25 L628.85,320.48 L631.19,320.70 L633.53,320.92 L635.87,321.14 L638.20,321.37 L640.54,321.60 L642.88,321.83 L645.22,322.07 L647.56,322.31 L649.90,322.56 L652.24,322.82 L654.58,323.09 L656.92,323.36 L659.26,323.65 L661.60,323.94" fill="none" stroke="#b8860b" stroke-width="1.2"/>
<path d="M102.45,62.18 L104.79,63.96 L107.13,65.75 L109.47,67.53 L111.81,69.32 L114.15,71.10 L116.49,72.88 L118.83,74.67 L121.17,76.45 L123.51,78.23 L125.85,80.02 L128.18,81.80 L130.52,83.58 L132.86,85.36 L135.20,87.15 L137.54,88.93 L139.88,90.71 L142.22,92.50 L144.56,94.28 L146.90,96.06 L149.24,97.85 L151.58,99.63 L153.92,101.41 L156.26,103.20 L158.60,104.98 L160.94,106.76 L163.28,108.54 L165.62,110.32 L167.96,112.10 L170.30,113.88 L172.64,115.66 L174.98,117.44 L177.32,119.21 L179.65,120.99 L181.99,122.76 L184.33,124.53 L186.67,126.30 L189.01,128.07 L191.35,129.84 L193.69,131.60 L196.03,133.36 L198.37,135.12 L200.71,136.88 L203.05,138.63 L205.39,140.38 L207.73,142.13 L210.07,143.88 L212.41,145.62 L214.75,147.35 L217.09,149.09 L219.43,150.82 L221.77,152.54 L224.11,154.26 L226.45,155.98 L228.79,157.69 L231.12,159.40 L233.46,161.10 L235.80,162.80 L238.14,164.49 L240.48,166.18 L242.82,167.86 L245.16,169.53 L247.50,171.20 L249.84,172.86 L252.18,174.52 L254.52,176.17 L256.86,177.81 L259.20,179.45 L261.54,181.08 L263.88,182.70 L266.22,184.32 L268.56,185.93 L270.90,187.53 L273.24,189.12 L275.58,190.71 L277.92,192.28 L280.26,193.85 L282.59,195.41 L284.93,196.96 L287.27,198.51 L289.61,200.04 L291.95,201.57 L294.29,203.09 L296.63,204.60 L298.97,206.10 L301.31,207.59 L303.65,209.07 L305.99,210.54 L308.33,212.00 L310.67,213.46 L313.01,214.90 L315.35,216.33 L317.69,217.76 L320.03,219.17 L322.37,220.57 L324.71,221.97 L327.05,223.35 L329.39,224.72 L331.72,226.09 L334.06,227.44 L336.40,228.78 L338.74,230.11 L341.08,231.43 L343.42,232.74 L345.76,234.04 L348.10,235.33 L350.44,236.61 L352.78,237.87 L355.12,239.13 L357.46,240.38 L359.80,241.61 L362.14,242.83 L364.48,244.05 L366.82,245.25 L369.16,246.44 L371.50,247.62 L373.84,248.79 L376.18,249.94 L378.52,251.09 L380.86,252.23 L383.19,253.35 L385.53,254.46 L387.87,255.57 L390.21,256.66 L392.55,257.74 L394.89,258.81 L397.23,259.87 L399.57,260.92 L401.91,261.95 L404.25,262.98 L406.59,264.00 L408.93,265.00 L411.27,265.99 L413.61,266.98 L415.95,267.95 L418.29,268.91 L420.63,269.86 L422.97,270.80 L425.31,271.73 L427.65,272.65 L429.99,273.56 L432.33,274.46 L434.66,275.35 L437.00,276.23 L439.34,277.10 L441.68,277.96 L444.02,278.80 L446.36,279.64 L448.70,280.47 L451.04,281.29 L453.38,282.10 L455.72,282.90 L458.06,283.69 L460.40,284.46 L462.74,285.23 L465.08,286.00 L467.42,286.75 L469.76,287.49 L472.10,288.22 L474.44,288.94 L476.78,289.66 L479.12,290.36 L481.46,291.06 L483.79,291.75 L486.13,292.43 L488.47,293.10 L490.81,293.76 L493.15,294.41 L495.49,295.05 L497.83,295.69 L500.17,296.32 L502.51,296.94 L504.85,297.55 L507.19,298.15 L509.53,298.75 L511.87,299.33 L514.21,299.91 L516.55,300.48 L518.89,301.04 L521.23,301.60 L523.57,302.15 L525.91,302.69 L528.25,303.22 L530.59,303.74 L532.93,304.26 L535.26,304.77 L537.60,305.27 L539.94,305.77 L542.28,306.26 L544.62,306.74 L546.96,307.21 L549.30,307.68 L551.64,308.14 L553.98,308.59 L556.32,309.04 L558.66,309.48 L561.00,309.91 L563.34,310.33 L565.68,310.75 L568.02,311.16 L570.36,311.57 L572.70,311.97 L575.04,312.36 L577.38,312.74 L579.72,313.12 L582.06,313.50 L584.40,313.86 L586.73,314.22 L589.07,314.57 L591.41,314.92 L593.75,315.26 L596.09,315.59 L598.43,315.91 L600.77,316.23 L603.11,316.55 L605.45,316.85 L607.79,317.15 L610.13,317.45 L612.47,317.73 L614.81,318.01 L617.15,318.29 L619.49,318.55 L621.83,318.81 L624.17,319.07 L626.51,319.31 L628.85,319.55 L631.19,319.78 L633.53,320.01 L635.87,320.23 L638.20,320.44 L640.54,320.65 L642.88,320.85 L645.22,321.04 L647.56,321.22 L649.90,321.40 L652.24,321.57 L654.58,321.73 L656.92,321.88 L659.26,322.03 L661.60,322.17" fill="none" stroke="#b8860b" stroke-width="1.2" stroke-dasharray="3.81 3.81"/>
<circle cx="102.45" cy="77.71" r="5.05" fill="#000"/>
<circle cx="158.37" cy="89.99" r="5.05" fill="#000"/>
<circle cx="326.11" cy="218.13" r="5.05" fill="#000"/>
<circle cx="549.77" cy="307.75" r="5.05" fill="#000"/>
<circle cx="661.60" cy="320.93" r="5.05" fill="#000"/>
<rect x="153.97" y="34.09" width="8.8" height="8.8" fill="#000"/>
<rect x="321.71" y="181.80" width="8.8" height="8.8" fill="#000"/>
<rect x="545.37" y="289.88" width="8.8" height="8.8" fill="#000"/>
<rect x="657.20" y="308.20" width="8.8" height="8.8" fill="#000"/>
<rect x="80.25" y="2.00" width="603.85" height="344.55" fill="none" stroke="#000" stroke-width="1.15" stroke-linejoin="round"/>
<line x1="102.45" y1="346.55" x2="102.45" y2="356.15" stroke="#000" stroke-width="1.2"/>
<line x1="158.37" y1="346.55" x2="158.37" y2="351.55" stroke="#000" stroke-width="1.2"/>
<line x1="214.28" y1="346.55" x2="214.28" y2="356.15" stroke="#000" stroke-width="1.2"/>
<line x1="270.19" y1="346.55" x2="270.19" y2="351.55" stroke="#000" stroke-width="1.2"/>
<line x1="326.11" y1="346.55" x2="326.11" y2="356.15" stroke="#000" stroke-width="1.2"/>
<line x1="382.03" y1="346.55" x2="382.03" y2="351.55" stroke="#000" stroke-width="1.2"/>
<line x1="437.94" y1="346.55" x2="437.94" y2="356.15" stroke="#000" stroke-width="1.2"/>
<line x1="493.86" y1="346.55" x2="493.86" y2="351.55" stroke="#000" stroke-width="1.2"/>
<line x1="549.77" y1="346.55" x2="549.77" y2="356.15" stroke="#000" stroke-width="1.2"/>
<line x1="605.69" y1="346.55" x2="605.69" y2="351.55" stroke="#000" stroke-width="1.2"/>
<line x1="661.60" y1="346.55" x2="661.60" y2="356.15" stroke="#000" stroke-width="1.2"/>
<line x1="80.25" y1="333.90" x2="70.65" y2="333.90" stroke="#000" stroke-width="1.2"/>
<line x1="80.25" y1="284.00" x2="75.25" y2="284.00" stroke="#000" stroke-width="1.2"/>
<line x1="80.25" y1="234.10" x2="70.65" y2="234.10" stroke="#000" stroke-width="1.2"/>
<line x1="80.25" y1="184.20" x2="75.25" y2="184.20" stroke="#000" stroke-width="1.2"/>
<line x1="80.25" y1="134.30" x2="70.65" y2="134.30" stroke="#000" stroke-width="1.2"/>
<line x1="80.25" y1="84.40" x2="75.25" y2="84.40" stroke="#000" stroke-width="1.2"/>
<line x1="80.25" y1="34.50" x2="70.65" y2="34.50" stroke="#000" stroke-width="1.2"/>
<text x="102.45" y="379.4" text-anchor="middle" font-size="20.5">0</text>
<text x="214.28" y="379.4" text-anchor="middle" font-size="20.5">50</text>
<text x="326.11" y="379.4" text-anchor="middle" font-size="20.5">100</text>
<text x="437.94" y="379.4" text-anchor="middle" font-size="20.5">150</text>
<text x="549.77" y="379.4" text-anchor="middle" font-size="20.5">200</text>
<text x="661.60" y="379.4" text-anchor="middle" font-size="20.5">250</text>
<text transform="translate(58.3,333.90) rotate(-90)" text-anchor="middle" font-size="20.5">0</text>
<text transform="translate(58.3,234.10) rotate(-90)" text-anchor="middle" font-size="20.5">5</text>
<text transform="translate(58.3,134.30) rotate(-90)" text-anchor="middle" font-size="20.5">10</text>
<text transform="translate(58.3,34.50) rotate(-90)" text-anchor="middle" font-size="20.5">15</text>
<text x="352.8" y="416.8" font-size="20.5">T</text>
<text x="375.6" y="416.8" font-size="20.5">(°C)</text>
<text transform="translate(21.30,254.70) rotate(-90)" font-size="20.5">Ca</text>
<text transform="translate(11.70,232.00) rotate(-90)" font-size="13.2">2+</text>
<text transform="translate(21.30,202.30) rotate(-90)" font-size="20.5">(mmol</text>
<text transform="translate(21.30,135.90) rotate(-90)" font-size="20.5">kg</text>
<text transform="translate(12.20,115.30) rotate(-90)" font-size="13.7">−1</text>
<text transform="translate(21.30,100.60) rotate(-90)" font-size="20.5">)</text>
<rect x="456.05" y="2.0" width="228.05" height="223.00" fill="#fff" stroke="#000" stroke-width="1.1" stroke-linejoin="round"/>
<circle cx="475.5" cy="22.30" r="5.05" fill="#000"/>
<text x="506.3" y="27.80" font-size="16.6">Shi et al. (2013), 34.5 bar</text>
<rect x="471.10" y="38.15" width="8.8" height="8.8" fill="#000"/>
<text x="506.3" y="48.10" font-size="16.6">Shi et al. (2013), 483 bar</text>
<line x1="460.4" y1="62.80" x2="490.6" y2="62.80" stroke="#ff0000" stroke-width="1.2" stroke-linecap="round"/>
<text x="506.3" y="68.40" font-size="16.6">HKF−Davies, 34.5 bar</text>
<line x1="460" y1="83.05" x2="490.3" y2="83.05" stroke="#ff0000" stroke-width="1.2" stroke-dasharray="3.81 3.81"/>
<text x="506.3" y="88.70" font-size="16.6">HKF−Davies, 483 bar</text>
<line x1="460.4" y1="103.30" x2="490.6" y2="103.30" stroke="#0000ff" stroke-width="1.2" stroke-linecap="round"/>
<text x="506.3" y="109.00" font-size="16.6">pitzer.dat, 34.5 bar</text>
<line x1="460" y1="123.55" x2="490.3" y2="123.55" stroke="#0000ff" stroke-width="1.2" stroke-dasharray="3.81 3.81"/>
<text x="506.3" y="129.30" font-size="16.6">pitzer.dat, 483 bar</text>
<line x1="460.4" y1="143.80" x2="490.6" y2="143.80" stroke="#458b00" stroke-width="1.2" stroke-linecap="round"/>
<text x="506.3" y="149.60" font-size="16.6">phreeqc.dat, 34.5 bar</text>
<line x1="460" y1="164.05" x2="490.3" y2="164.05" stroke="#458b00" stroke-width="1.2" stroke-dasharray="3.81 3.81"/>
<text x="506.3" y="169.90" font-size="16.6">phreeqc.dat, 483 bar</text>
<line x1="460.4" y1="184.30" x2="490.6" y2="184.30" stroke="#b8860b" stroke-width="1.2" stroke-linecap="round"/>
<text x="506.3" y="190.20" font-size="16.6">llnl.dat, 34.5 bar</text>
<line x1="460" y1="204.55" x2="490.3" y2="204.55" stroke="#b8860b" stroke-width="1.2" stroke-dasharray="3.81 3.81"/>
<text x="506.3" y="210.50" font-size="16.6">llnl.dat, 483 bar</text>
</svg>
</body></html>
